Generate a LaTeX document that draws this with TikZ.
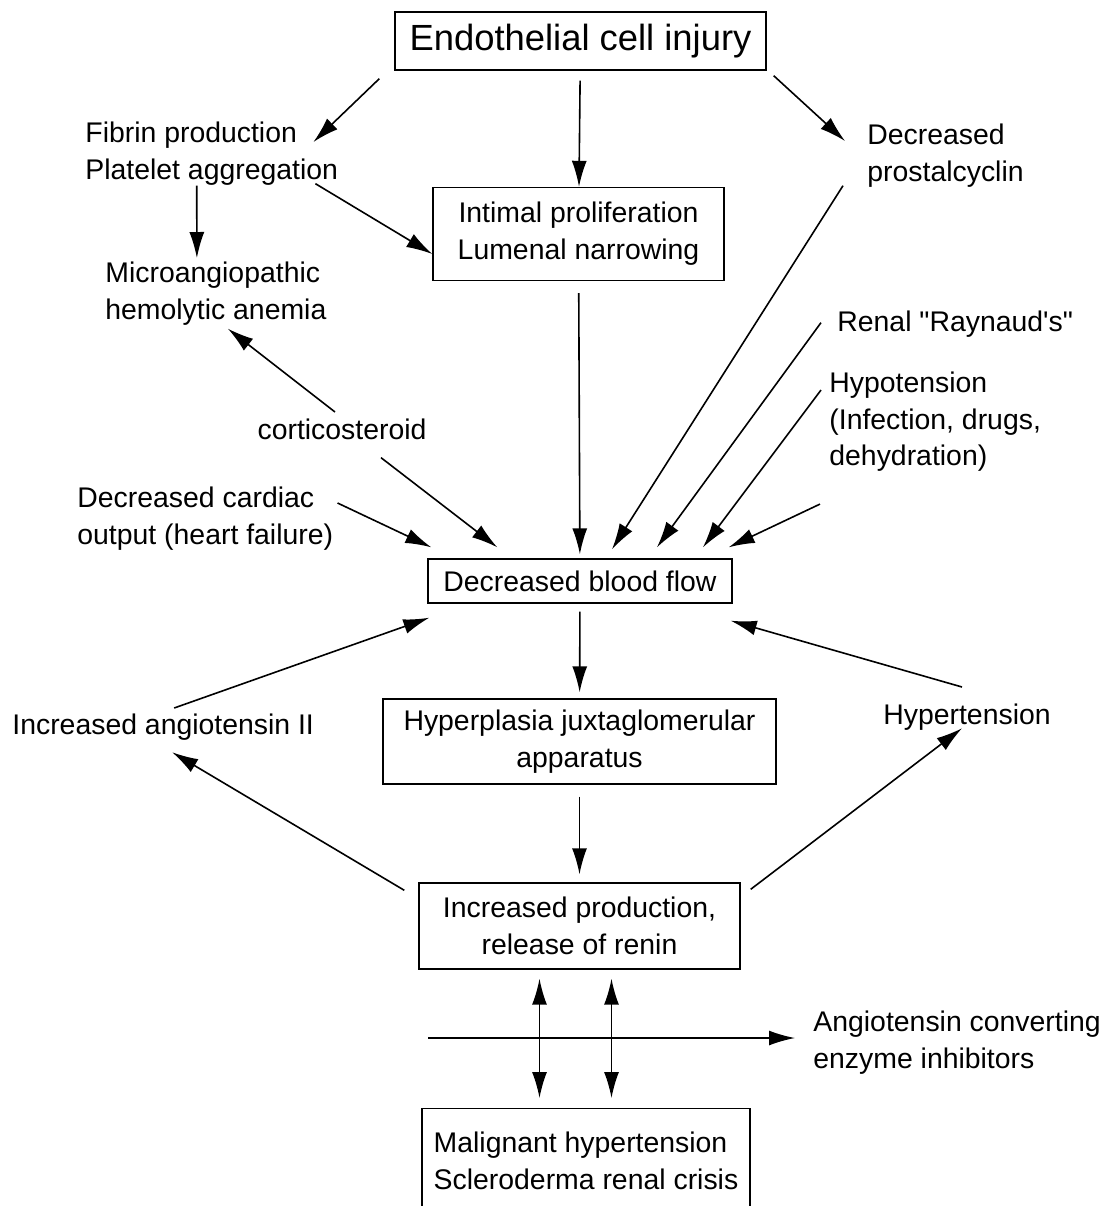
\documentclass[tikz,border=0pt]{standalone}
\usepackage{fontspec}
\setmainfont{Liberation Sans}[Ligatures=TeXOff]
\usetikzlibrary{arrows.meta,calc,positioning}
\tikzset{
  flow/.style={-{Latex[length=13pt,width=7.5pt]},line width=0.8pt},
  twoway/.style={{Latex[length=13pt,width=7.5pt]}-{Latex[length=13pt,width=7.5pt]},line width=0.8pt},
  box/.style={draw=black,line width=0.7pt,inner sep=0pt,align=center,
              font=\fontsize{14.2}{18.5}\selectfont},
  headbox/.style={box,font=\fontsize{18.2}{22}\selectfont},
  lab/.style={inner sep=0pt,align=left,font=\fontsize{14.2}{18.2}\selectfont},
}

\begin{document}
\begin{tikzpicture}[x=0.5pt,y=-0.5pt]
  \path[use as bounding box] (0,0) rectangle (1107,1206);

  % boxes down the middle
  \node[headbox,minimum width=185.5pt,minimum height=29pt] (injury) at (580.5,41)
    {Endothelial cell injury};
  \node[box,minimum width=145.5pt,minimum height=46.5pt] (intimal) at (578.5,234)
    {Intimal proliferation\\Lumenal narrowing};
  \node[box,minimum width=152pt,minimum height=22pt] (dbf) at (580,581)
    {Decreased blood flow};
  \node[box,minimum width=196.5pt,minimum height=42.5pt] (hyperpl) at (579.5,741.5)
    {Hyperplasia juxtaglomerular\\apparatus};
  \node[box,minimum width=160.5pt,minimum height=43pt] (renin) at (579.5,926)
    {Increased production,\\release of renin};
  \node[box,align=left,anchor=north,minimum width=164pt,minimum height=52pt] (malig) at (586,1108)
    {Malignant hypertension\\Scleroderma renal crisis};

  % free labels
  \node[lab,anchor=north west] (fibrin) at (85,122) {Fibrin production\\Platelet aggregation};
  \node[lab,anchor=north west] (prost) at (867,124) {Decreased\\prostalcyclin};
  \node[lab,anchor=north west] (micro) at (105,262) {Microangiopathic\\hemolytic anemia};
  \node[lab,anchor=north west] (raynaud) at (837,311) {Renal "Raynaud's"};
  \node[lab,anchor=north west] (hypo) at (829,372) {Hypotension\\(Infection, drugs,\\dehydration)};
  \node[lab,anchor=north] (cortico) at (342,419) {corticosteroid};
  \node[lab,anchor=north west] (cardiac) at (77,487) {Decreased cardiac\\output (heart failure)};
  \node[lab,anchor=north west] (angII) at (12,714) {Increased angiotensin II};
  \node[lab,anchor=north] (hyper) at (967,704) {Hypertension};
  \node[lab,anchor=north west] (ace) at (813,1011) {Angiotensin converting\\enzyme inhibitors};
  \coordinate (acefrom) at (428,1038);

  % upper part
  \draw[flow] ($(injury.south west)+(-15,8)$) -- ($(fibrin.north east)+(-25,20)$);
  \draw[flow,shorten <=5pt] (injury) -- (intimal);
  \draw[flow] ($(injury.south east)+(7,5)$) -- ($(prost.north west)+(-22,17)$);
  \draw[flow] ($(fibrin.south)+(-15,0)$) -- ($(micro.north)+(-19,-4)$);
  \draw[flow] ($(fibrin.south east)+(-23,-2)$) -- ($(intimal.west)+(0,20)$);
  \draw[flow,shorten <=6pt,shorten >=2pt] (intimal) -- (dbf);
  \draw[flow] ($(prost.south west)+(-24,-2)$) -- ($(dbf.north)+(32,-9)$);
  \draw[flow] ($(raynaud.west)+(-16,-2)$) -- ($(dbf.north)+(77,-11)$);
  \draw[flow] ($(hypo.north west)+(-8,18)$) -- ($(dbf.north)+(123,-11)$);
  \draw[flow] ($(hypo.south west)+(-9,32)$) -- ($(dbf.north east)+(-4,-11)$);
  \draw[flow] ($(cortico.north)+(-7,-7)$) -- ($(micro.south)+(12,3)$);
  \draw[flow] ($(cortico.south)+(39,17)$) -- ($(dbf.north west)+(70,-11)$);
  \draw[flow] ($(cardiac.north east)+(4,16)$) -- ($(dbf.north west)+(4,-11)$);

  % feedback loop
  \draw[flow] ($(angII.north)+(11,-6)$) -- ($(dbf.south west)+(2,14)$);
  \draw[flow] ($(hyper.north)+(-5,-17)$) -- ($(dbf.south east)+(-2,17)$);
  \draw[flow,shorten <=4pt,shorten >=3pt] (dbf) -- (hyperpl);
  \draw[flow,shorten <=6pt,shorten >=4pt] (hyperpl) -- (renin);
  \draw[flow] ($(renin.north west)+(-14,8)$) -- ($(angII.south)+(9,11)$);
  \draw[flow] ($(renin.north east)+(10,7)$) -- ($(hyper.south)+(-5,-3)$);

  % bottom
  \foreach \dx in {-40,32}
    \draw[twoway] ($(renin.south)+(\dx,9)$) -- ($(renin.south |- malig.north)+(\dx,-10)$);
  \draw[flow,shorten >=9pt] (acefrom) -- (acefrom -| ace.west);
\end{tikzpicture}
\end{document}
